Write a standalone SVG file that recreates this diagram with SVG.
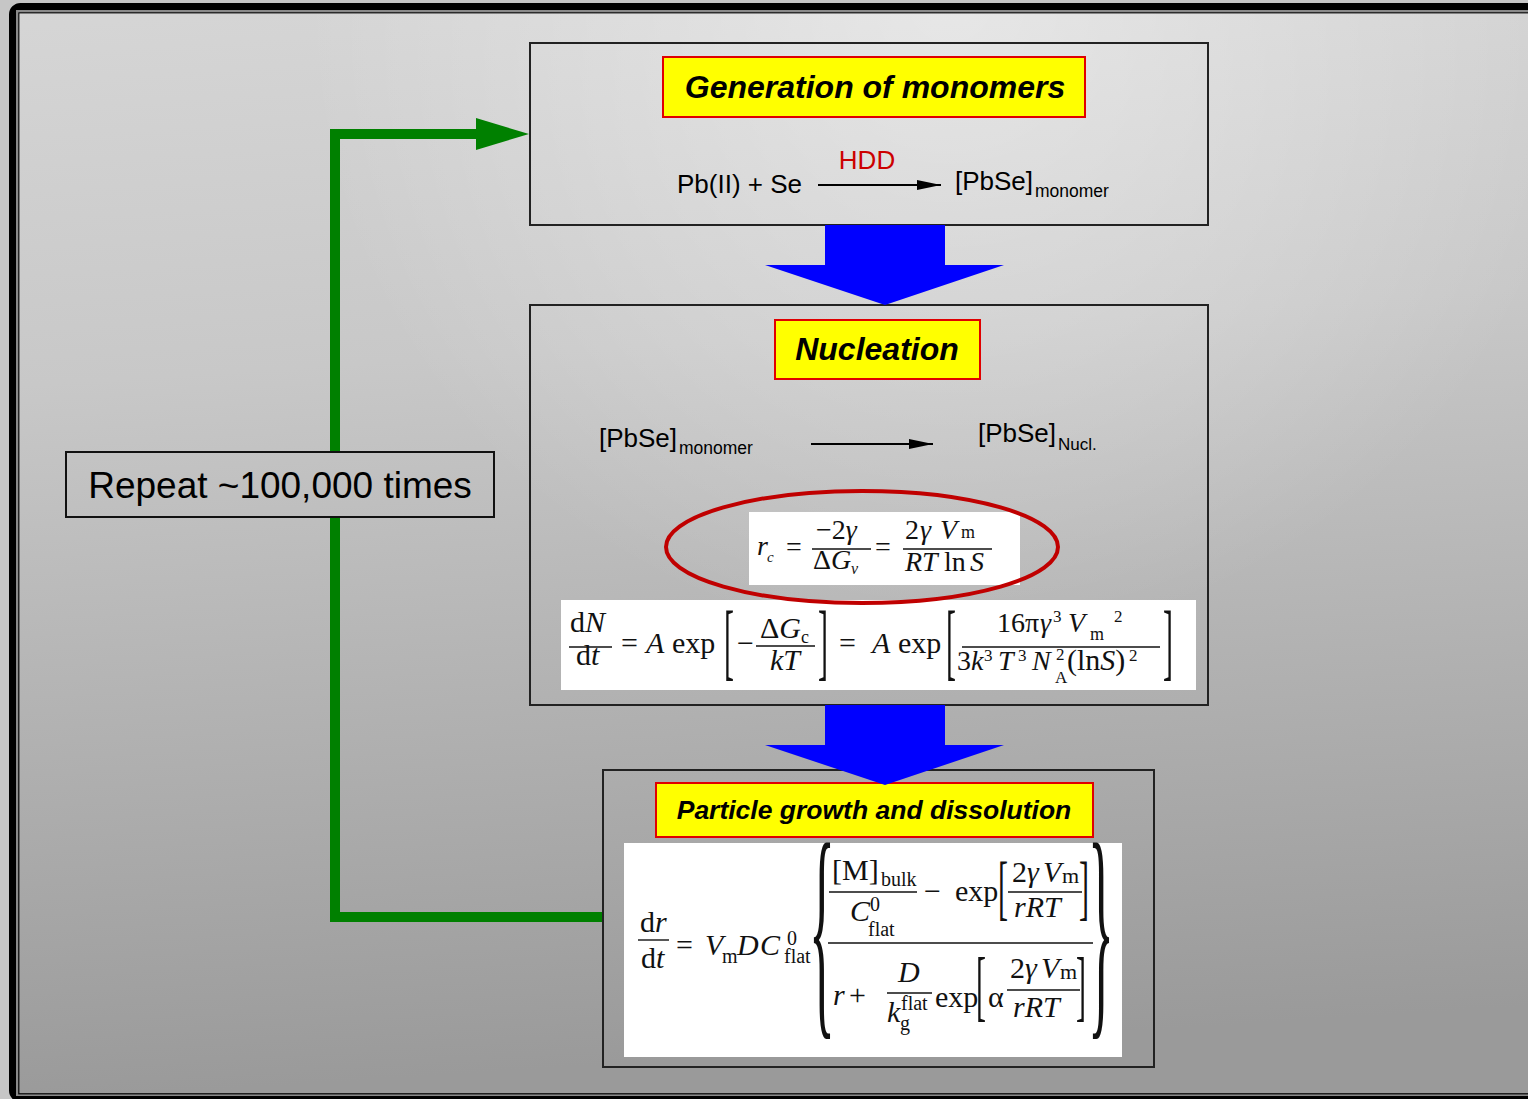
<svg xmlns="http://www.w3.org/2000/svg" width="1528" height="1099" viewBox="0 0 1528 1099">
<defs>
<linearGradient id="bg" gradientUnits="userSpaceOnUse" x1="0" y1="0" x2="70" y2="1099">
<stop offset="0" stop-color="#d6d6d6"/>
<stop offset="0.35" stop-color="#c8c8c8"/>
<stop offset="1" stop-color="#9a9a9a"/>
</linearGradient>
<radialGradient id="glow" gradientUnits="userSpaceOnUse" cx="950" cy="0" r="650">
<stop offset="0" stop-color="#fff" stop-opacity="0.45"/>
<stop offset="1" stop-color="#fff" stop-opacity="0"/>
</radialGradient>
<style>
.box{fill:none;stroke:#222;stroke-width:2}
.ttl{fill:#ffff00;stroke:#e00000;stroke-width:2}
.tt{font-family:"Liberation Sans",Arial,sans-serif;font-weight:bold;font-style:italic;fill:#000}
.s{font-family:"Liberation Sans",Arial,sans-serif;fill:#000}
.m{font-family:"Liberation Serif","Times New Roman",serif;fill:#111}
.i{font-style:italic}
.eq{fill:#fff}
.bar{stroke:#111;stroke-width:1.4}
.blue{fill:#0000ff}
</style>
<marker id="ah" viewBox="0 0 24 12" refX="24" refY="6" markerWidth="24" markerHeight="12" markerUnits="userSpaceOnUse" orient="auto">
<path d="M0,1 L24,6 L0,11 z" fill="#000"/>
</marker>
</defs>

<rect width="1528" height="1099" fill="#c6c6c6"/>
<rect x="12.5" y="6.5" width="1540" height="1092" rx="8" fill="url(#bg)" stroke="#000" stroke-width="7"/>
<rect x="16" y="10" width="1530" height="1085" fill="url(#glow)"/>
<rect x="17" y="11" width="1530" height="1084" fill="none" stroke="#8a8a8a" stroke-width="2"/>
<rect x="18.8" y="12.8" width="1530" height="1081" fill="none" stroke="#000" stroke-width="1.2"/>

<g id="connectors">
<path d="M603,917 H335 V134 H478" fill="none" stroke="#008000" stroke-width="10" stroke-linejoin="miter"/>
<polygon points="476,118 529,134 476,150" fill="#008000"/>
</g>

<g id="repeat">
<rect x="66" y="452" width="428" height="65" fill="url(#bg)" stroke="#111" stroke-width="2"/>
<text class="s" x="280" y="498" font-size="37" text-anchor="middle">Repeat ~100,000 times</text>
</g>

<g id="generation">
<rect class="box" x="530" y="43" width="678" height="182"/>
<rect class="ttl" x="663" y="57" width="422" height="60"/>
<text class="tt" x="875" y="98" font-size="32" text-anchor="middle">Generation of monomers</text>
<text class="s" x="677" y="193" font-size="26">Pb(II) + Se</text>
<text class="s" x="867" y="169" font-size="26" style="fill:#cc0000" text-anchor="middle">HDD</text>
<line x1="818" y1="185" x2="941" y2="185" stroke="#000" stroke-width="2" marker-end="url(#ah)"/>
<text class="s" x="955" y="190" font-size="26">[PbSe]</text>
<text class="s" x="1035" y="197" font-size="17.5">monomer</text>
</g>

<g id="nucleation" font-size="30">
<rect class="box" x="530" y="305" width="678" height="400"/>
<rect class="ttl" x="775" y="320" width="205" height="59"/>
<text class="tt" x="877" y="360" font-size="32" text-anchor="middle">Nucleation</text>
<text class="s" x="599" y="447" font-size="26">[PbSe]</text>
<text class="s" x="679" y="454" font-size="17.5">monomer</text>
<line x1="811" y1="444" x2="933" y2="444" stroke="#000" stroke-width="2" marker-end="url(#ah)"/>
<text class="s" x="978" y="442" font-size="26">[PbSe]</text>
<text class="s" x="1058" y="450" font-size="17">Nucl.</text>

<rect class="eq" x="749" y="512" width="271" height="73"/>
<text class="m i" x="757" y="555" font-size="28">r</text>
<text class="m i" x="767" y="562" font-size="15">c</text>
<text class="m" x="786" y="556" font-size="28">=</text>
<line class="bar" x1="812" y1="549" x2="871" y2="549"/>
<text class="m" x="816" y="539" font-size="28">−2<tspan class="i">γ</tspan></text>
<text class="m" x="813" y="569" font-size="28">Δ<tspan class="i">G</tspan></text>
<text class="m i" x="851" y="574" font-size="16">ν</text>
<text class="m" x="875" y="556" font-size="28">=</text>
<line class="bar" x1="903" y1="549" x2="992" y2="549"/>
<text class="m" x="905" y="539" font-size="28">2</text>
<text class="m i" x="920" y="539" font-size="28">γ</text>
<text class="m i" x="940" y="539" font-size="28">V</text>
<text class="m" x="961" y="538" font-size="18">m</text>
<text class="m i" x="905" y="571" font-size="28">RT</text>
<text class="m" x="944" y="571" font-size="28">ln</text>
<text class="m i" x="970" y="571" font-size="28">S</text>

<rect class="eq" x="561" y="600" width="635" height="90"/>
<text class="m" x="570" y="632">d<tspan class="i">N</tspan></text>
<line class="bar" x1="569" y1="647" x2="612" y2="647"/>
<text class="m" x="576" y="665">d<tspan class="i">t</tspan></text>
<text class="m" x="621" y="653">=</text>
<text class="m i" x="646" y="653">A</text>
<text class="m" x="672" y="653">exp</text>
<text class="m" transform="translate(724,669.6) scale(1,2.85)">[</text>
<text class="m" x="737" y="653">−</text>
<line class="bar" x1="756" y1="646" x2="815" y2="646"/>
<text class="m" x="760" y="638">Δ<tspan class="i">G</tspan></text>
<text class="m" x="801" y="643" font-size="18">c</text>
<text class="m i" x="770" y="670">kT</text>
<text class="m" transform="translate(818,669.6) scale(1,2.85)">]</text>
<text class="m" x="839" y="653">=</text>
<text class="m i" x="872" y="653">A</text>
<text class="m" x="898" y="653">exp</text>
<text class="m" transform="translate(946,669.6) scale(1,2.85)">[</text>
<line class="bar" x1="962" y1="647" x2="1160" y2="647"/>
<text class="m" x="997" y="632" font-size="28">16π</text>
<text class="m i" x="1040" y="632" font-size="28">γ</text>
<text class="m" x="1053" y="622" font-size="17">3</text>
<text class="m i" x="1068" y="632" font-size="28">V</text>
<text class="m" x="1090" y="640" font-size="18">m</text>
<text class="m" x="1114" y="622" font-size="17">2</text>
<text class="m" x="957" y="670" font-size="28">3</text>
<text class="m i" x="971" y="670" font-size="28">k</text>
<text class="m" x="984" y="661" font-size="17">3</text>
<text class="m i" x="998" y="670" font-size="28">T</text>
<text class="m" x="1018" y="661" font-size="17">3</text>
<text class="m i" x="1032" y="670" font-size="28">N</text>
<text class="m" x="1056" y="660" font-size="17">2</text>
<text class="m" x="1055" y="683" font-size="17">A</text>
<text class="m" x="1067" y="670">(ln<tspan class="i">S</tspan>)</text>
<text class="m" x="1129" y="661" font-size="17">2</text>
<text class="m" transform="translate(1163,669.6) scale(1,2.85)">]</text>

<ellipse cx="862" cy="547" rx="196" ry="56" fill="none" stroke="#c00000" stroke-width="4"/>
</g>

<g id="growth" font-size="30">
<rect class="box" x="603" y="770" width="551" height="297"/>
<rect class="ttl" x="656" y="783" width="437" height="54"/>
<text class="tt" x="874" y="819" font-size="26.5" text-anchor="middle">Particle growth and dissolution</text>
<rect class="eq" x="624" y="843" width="498" height="214"/>
<text class="m" x="640" y="932">d<tspan class="i">r</tspan></text>
<line class="bar" x1="638" y1="940" x2="669" y2="940"/>
<text class="m" x="641" y="968">d<tspan class="i">t</tspan></text>
<text class="m" x="676" y="955">=</text>
<text class="m i" x="705" y="955">V</text>
<text class="m" x="722" y="963" font-size="20">m</text>
<text class="m i" x="737" y="955">D</text>
<text class="m i" x="760" y="955">C</text>
<text class="m" x="787" y="945" font-size="20">0</text>
<text class="m" x="784" y="963" font-size="20">flat</text>
<text class="m" font-size="60" transform="translate(809,1007) scale(0.9,3.95)">{</text>
<line class="bar" x1="828" y1="943" x2="1093" y2="943"/>
<text class="m" x="832" y="880">[M]</text>
<text class="m" x="881" y="886" font-size="20">bulk</text>
<line class="bar" x1="829" y1="892" x2="917" y2="892"/>
<text class="m i" x="850" y="921">C</text>
<text class="m" x="870" y="911" font-size="20">0</text>
<text class="m" x="868" y="936" font-size="20">flat</text>
<text class="m" x="924" y="901">−</text>
<text class="m" x="955" y="901">exp</text>
<text class="m" transform="translate(998,910.7) scale(1,2.4)">[</text>
<line class="bar" x1="1008" y1="892" x2="1082" y2="892"/>
<text class="m" x="1012" y="882">2</text>
<text class="m i" x="1027" y="882">γ</text>
<text class="m i" x="1043" y="882">V</text>
<text class="m" x="1062" y="883" font-size="22">m</text>
<text class="m i" x="1014" y="917">rRT</text>
<text class="m" transform="translate(1079,910.7) scale(1,2.4)">]</text>
<text class="m" font-size="60" transform="translate(1088,1007) scale(0.9,3.95)">}</text>
<text class="m i" x="833" y="1005">r</text>
<text class="m" x="849" y="1005">+</text>
<text class="m i" x="898" y="982">D</text>
<line class="bar" x1="887" y1="993" x2="932" y2="993"/>
<text class="m i" x="887" y="1022">k</text>
<text class="m" x="901" y="1010" font-size="20">flat</text>
<text class="m" x="900" y="1030" font-size="20">g</text>
<text class="m" x="935" y="1007">exp</text>
<text class="m" transform="translate(976,1012) scale(1,2.6)">[</text>
<text class="m" x="988" y="1007">α</text>
<line class="bar" x1="1007" y1="990" x2="1080" y2="990"/>
<text class="m" x="1010" y="978">2</text>
<text class="m i" x="1025" y="978">γ</text>
<text class="m i" x="1041" y="978">V</text>
<text class="m" x="1060" y="979" font-size="22">m</text>
<text class="m i" x="1013" y="1017">rRT</text>
<text class="m" transform="translate(1076,1012) scale(1,2.6)">]</text>
</g>

<g id="blue-arrows">
<polygon class="blue" points="825,225 945,225 945,265 1004,265 885,305 765,265 825,265"/>
<polygon class="blue" points="825,705 945,705 945,745 1004,745 885,785 765,745 825,745"/>
</g>
</svg>
